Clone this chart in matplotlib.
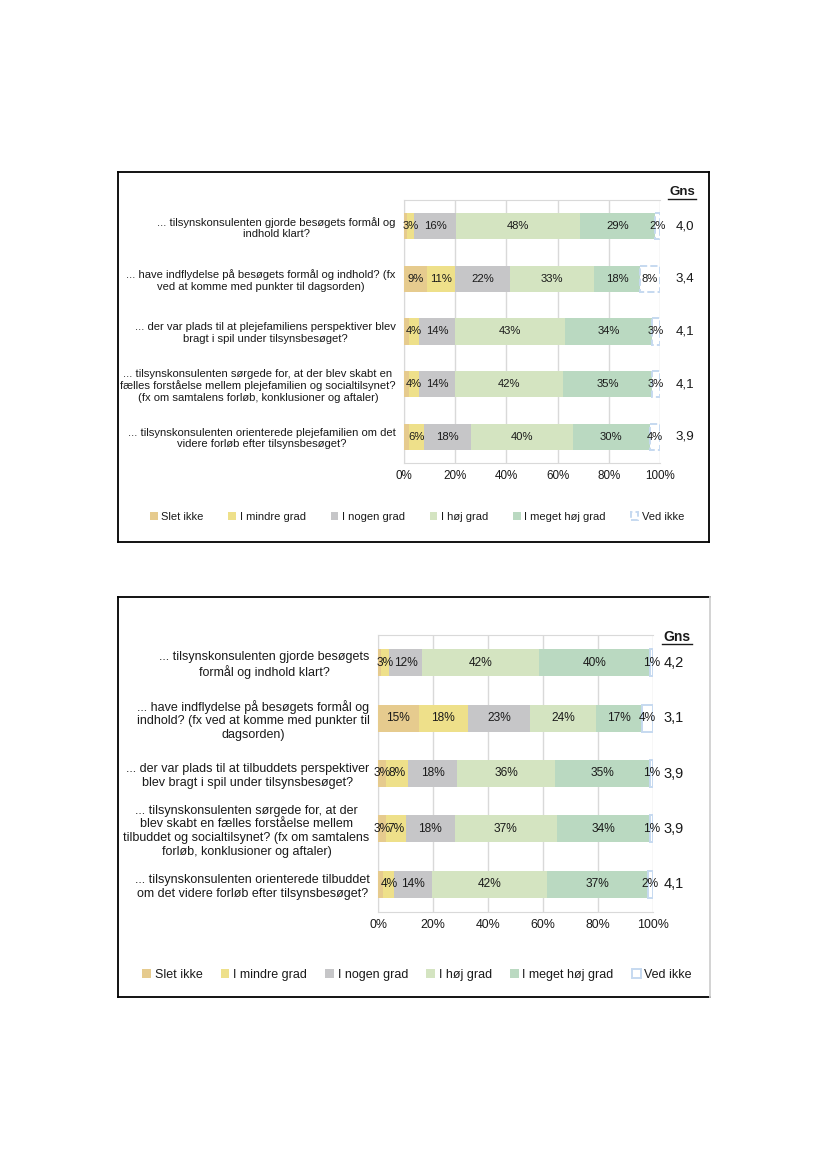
import matplotlib.pyplot as plt
import matplotlib.lines as mlines
import matplotlib.transforms as mtrans
import numpy as np

plt.rcParams['font.family'] = ['Liberation Sans', 'DejaVu Sans']

kategorier = ['Slet ikke', 'I mindre grad', 'I nogen grad', 'I høj grad', 'I meget høj grad', 'Ved ikke']
farver = ['#E6CB8E', '#EEE08A', '#C6C6C8', '#D4E4C1', '#BAD9C1', 'white']
kant_ved_ikke = '#C6D9F0'
tekst = '#1a1a1a'

# diagram 1 - plejefamilier
spm1 = ['... tilsynskonsulenten gjorde besøgets formål og\nindhold klart?',
        '... have indflydelse på besøgets formål og indhold? (fx\nved at komme med punkter til dagsorden)',
        '... der var plads til at plejefamiliens perspektiver blev\nbragt i spil under tilsynsbesøget?',
        '... tilsynskonsulenten sørgede for, at der blev skabt en\nfælles forståelse mellem plejefamilien og socialtilsynet?\n(fx om samtalens forløb, konklusioner og aftaler)',
        '... tilsynskonsulenten orienterede plejefamilien om det\nvidere forløb efter tilsynsbesøget?']
slet1 = [1, 9, 2, 2, 2]
mindre1 = [3, 11, 4, 4, 6]
nogen1 = [16, 22, 14, 14, 18]
hoej1 = [48, 33, 43, 42, 40]
meget1 = [29, 18, 34, 35, 30]
vedikke1 = [2, 8, 3, 3, 4]
gns1 = ['4,0', '3,4', '4,1', '4,1', '3,9']

# diagram 2 - tilbud
spm2 = ['... tilsynskonsulenten gjorde besøgets\nformål og indhold klart?',
        '... have indflydelse på besøgets formål og\nindhold? (fx ved at komme med punkter til\ndagsorden)',
        '... der var plads til at tilbuddets perspektiver\nblev bragt i spil under tilsynsbesøget?',
        '... tilsynskonsulenten sørgede for, at der\nblev skabt en fælles forståelse mellem\ntilbuddet og socialtilsynet? (fx om samtalens\nforløb, konklusioner og aftaler)',
        '... tilsynskonsulenten orienterede tilbuddet\nom det videre forløb efter tilsynsbesøget?']
slet2 = [1, 15, 3, 3, 2]
mindre2 = [3, 18, 8, 7, 4]
nogen2 = [12, 23, 18, 18, 14]
hoej2 = [42, 24, 36, 37, 42]
meget2 = [40, 17, 35, 34, 37]
vedikke2 = [1, 4, 1, 1, 2]
gns2 = ['4,2', '3,1', '3,9', '3,9', '4,1']

W, H = 827, 1169
fig = plt.figure(figsize=(W / 100, H / 100), dpi=100)


def px(x0, y0, x1, y1):
    return [x0 / W, 1 - y1 / H, (x1 - x0) / W, (y1 - y0) / H]


def ramme(x0, y0, x1, y1, hoejre='black'):
    kw = dict(transform=fig.transFigure, lw=1.3)
    fig.add_artist(mlines.Line2D([x0 / W, x0 / W], [1 - y0 / H, 1 - y1 / H], color='black', **kw))
    fig.add_artist(mlines.Line2D([x0 / W, x1 / W], [1 - y0 / H, 1 - y0 / H], color='black', **kw))
    fig.add_artist(mlines.Line2D([x0 / W, x1 / W], [1 - y1 / H, 1 - y1 / H], color='black', **kw))
    fig.add_artist(mlines.Line2D([x1 / W, x1 / W], [1 - y0 / H, 1 - y1 / H], color=hoejre, **kw))


def diagram(rect, spm, serier, gns, fs_lbl, fs_pct, fs_gns, gns_x, ls_ved, hoejde):
    ax = fig.add_axes(rect)
    data = np.array(serier, dtype=float)
    andel = data / data.sum(axis=0)
    y = np.arange(len(spm))
    venstre = np.zeros(len(spm))
    for i, kat in enumerate(kategorier):
        if i == 5:
            bars = ax.barh(y, andel[i], left=venstre, height=hoejde, color='white',
                           edgecolor=kant_ved_ikke, linewidth=1.4, linestyle=ls_ved, label=kat, zorder=3)
        else:
            bars = ax.barh(y, andel[i], left=venstre, height=hoejde, color=farver[i],
                           label=kat, zorder=3)
        if i == 0:
            lbl = [f'{v:g}%' if v >= 3 else '' for v in data[i]]
        else:
            lbl = [f'{v:g}%' for v in data[i]]
        ax.bar_label(bars, labels=lbl, label_type='center', fontsize=fs_pct, color=tekst, zorder=4)
        venstre += andel[i]
    ax.set_xlim(0, 1)
    ax.set_ylim(len(spm) - 0.5, -0.5)
    ax.set_xticks(np.linspace(0, 1, 6))
    ax.set_xticklabels([f'{int(t * 100)}%' for t in np.linspace(0, 1, 6)], fontsize=fs_pct + 0.3, color=tekst)
    ax.set_yticks(y)
    ax.set_yticklabels(spm, fontsize=fs_lbl, color=tekst)
    for t in ax.get_yticklabels():
        t.set_multialignment('center')
    ax.tick_params(length=0, pad=6)
    ax.tick_params(axis='x', pad=5)
    ax.grid(axis='x', color='#D9D9D9', lw=1, zorder=0)
    for s in ax.spines.values():
        s.set_color('#D9D9D9')
    ax.spines['right'].set_visible(False)
    trans = mtrans.blended_transform_factory(ax.transAxes, ax.transData)
    for yy, g in zip(y, gns):
        ax.text(gns_x, yy, g, transform=trans, ha='center', va='center', fontsize=fs_gns, color=tekst)
    return ax


# diagram 1
ramme(118, 172, 709, 542)
ax1 = diagram(px(404, 200, 660, 463), spm1, [slet1, mindre1, nogen1, hoej1, meget1, vedikke1],
              gns1, 8.1, 8.1, 9.6, 1.098, '--', 0.5)
fig.text(682 / W, 1 - 192 / H, 'Gns', ha='center', va='center', fontsize=9.5, fontweight='bold', color=tekst)
fig.add_artist(mlines.Line2D([668 / W, 696 / W], [1 - 199 / H, 1 - 199 / H], color=tekst, lw=1,
                             transform=fig.transFigure))
ax1.legend(loc='center', bbox_to_anchor=((417 - 404) / 256, -0.205),
           ncol=6, frameon=False, fontsize=8.0, handlelength=0.7, handleheight=0.7,
           handletextpad=0.3, columnspacing=2.25, labelcolor=tekst)

# diagram 2
ramme(118, 597, 710, 997, hoejre='#D0D0D0')
ax2 = diagram(px(378, 635, 653, 912), spm2, [slet2, mindre2, nogen2, hoej2, meget2, vedikke2],
              gns2, 9.0, 8.6, 10.5, 1.076, '-', 0.49)
fig.text(677 / W, 1 - 637 / H, 'Gns', ha='center', va='center', fontsize=10, fontweight='bold', color=tekst)
fig.add_artist(mlines.Line2D([662 / W, 692 / W], [1 - 644 / H, 1 - 644 / H], color=tekst, lw=1,
                             transform=fig.transFigure))
ax2.legend(loc='center', bbox_to_anchor=((417 - 378) / 275, -0.227),
           ncol=6, frameon=False, fontsize=9.0, handlelength=0.7, handleheight=0.7,
           handletextpad=0.3, columnspacing=1.45, labelcolor=tekst)

fig.savefig('out.png', dpi=100)
